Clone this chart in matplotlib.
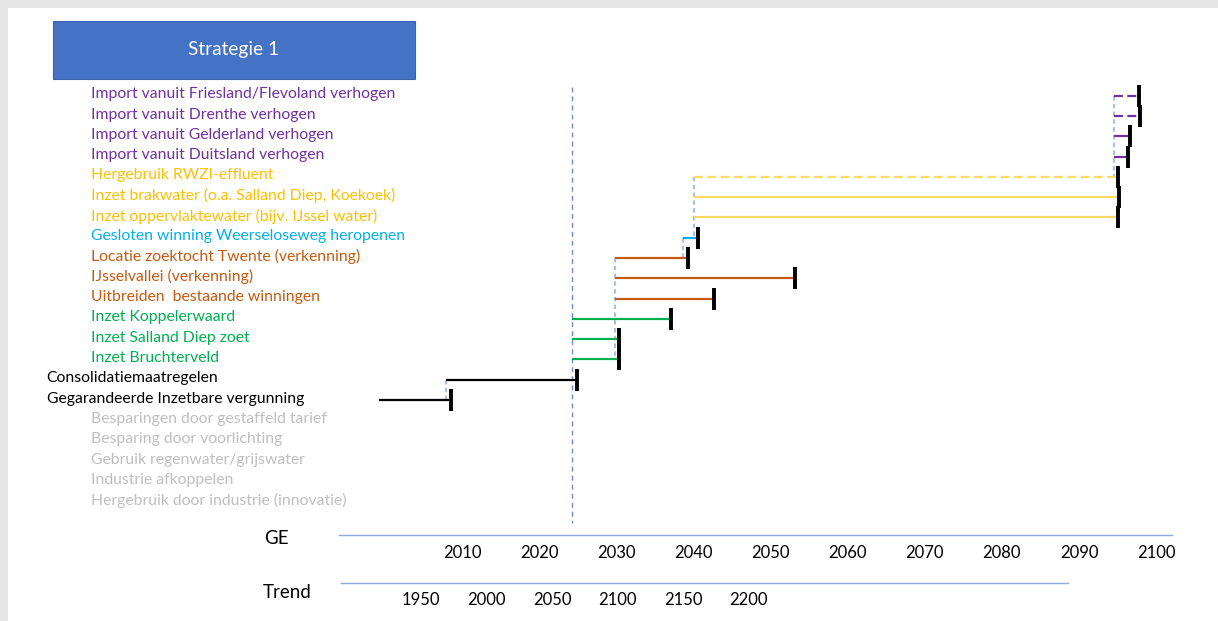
import matplotlib
matplotlib.use("Agg")
import matplotlib.pyplot as plt
from matplotlib.patches import Rectangle
from matplotlib import transforms

plt.rcParams['font.family'] = ['Lato', 'DejaVu Sans']

# ---- data -------------------------------------------------------------
title = "Strategie 1"

measures = [
    "Import vanuit Friesland/Flevoland verhogen",
    "Import vanuit Drenthe verhogen",
    "Import vanuit Gelderland verhogen",
    "Import vanuit Duitsland verhogen",
    "Hergebruik RWZI-effluent",
    "Inzet brakwater (o.a. Salland Diep, Koekoek)",
    "Inzet oppervlaktewater (bijv. IJssel water)",
    "Gesloten winning Weerseloseweg heropenen",
    "Locatie zoektocht Twente (verkenning)",
    "IJsselvallei (verkenning)",
    "Uitbreiden  bestaande winningen",
    "Inzet Koppelerwaard",
    "Inzet Salland Diep zoet",
    "Inzet Bruchterveld",
    "Consolidatiemaatregelen",
    "Gegarandeerde Inzetbare vergunning",
    "Besparingen door gestaffeld tarief",
    "Besparing door voorlichting",
    "Gebruik regenwater/grijswater",
    "Industrie afkoppelen",
    "Hergebruik door industrie (innovatie)",
]

groups = (["import"] * 4 + ["reuse"] * 3 + ["reopen"] + ["extend"] * 3
          + ["new"] * 3 + ["base"] * 2 + ["saving"] * 5)

# start / end year of every scheduled measure (rows 0..15)
start_years = [2094.5, 2094.5, 2094.5, 2094.5, 2040.0, 2040.0, 2040.0, 2038.6,
               2029.8, 2029.8, 2029.8, 2024.2, 2024.2, 2024.2, 2007.8, 1999.1]
end_years = [2097.8, 2097.9, 2096.6, 2096.4, 2095.1, 2095.2, 2095.1, 2040.5,
             2039.2, 2053.1, 2042.6, 2037.0, 2030.3, 2030.3, 2024.9, 2008.5]
tentative = [True, True, False, False, True, False, False, False,
             False, False, False, False, False, False, False, False]

# dependency links: (measure, predecessor)
links = [(0, 4), (4, 7), (7, 8), (8, 13), (14, 15)]

now_year = 2024.2
ge_years = [2010, 2020, 2030, 2040, 2050, 2060, 2070, 2080, 2090, 2100]
trend_years = [1950, 2000, 2050, 2100, 2150, 2200]

# ---- styling ----------------------------------------------------------
text_colors = {"import": "#7030A0", "reuse": "#FFC000", "reopen": "#00B0F0",
               "extend": "#C55A11", "new": "#00B050", "base": "#000000",
               "saving": "#BFBFBF"}
line_colors = {"import": "#7030A0", "reuse": "#FFD966", "reopen": "#00B0F0",
               "extend": "#C55A11", "new": "#00B050", "base": "#000000"}
indent = {"base": 46.7}

W, H = 1218, 621
fig = plt.figure(figsize=(W / 100, H / 100), dpi=100)
fig.patch.set_facecolor("#E7E6E6")


def fx(px):
    return px / W


def fy(py):
    return 1 - py / H


fig.patches.append(Rectangle((fx(8), 0), 1 - fx(8), fy(8), transform=fig.transFigure,
                             facecolor="white", edgecolor="none", zorder=-2))

# header box
fig.patches.append(Rectangle((fx(52.7), fy(78.7)), (415 - 52.7) / W, 58 / H,
                             transform=fig.transFigure, facecolor="#4472C4",
                             edgecolor="#3A64B0", lw=0.8, zorder=-1))
fig.text(fx(234), fy(49.5), title, color="white", fontsize=13.8,
         ha="center", va="center")

# ---- main time axis (GE) ---------------------------------------------
ax = fig.add_axes([fx(339), fy(535), (1172 - 339) / W, (535 - 60) / H])
ax.set_facecolor("none")
px_per_year = 7.703
ax.set_xlim(2010 - (462.7 - 339) / px_per_year, 2010 + (1172 - 462.7) / px_per_year)
ax.set_ylim(21.77, -1.64)
for s in ("top", "left", "right"):
    ax.spines[s].set_visible(False)
ax.spines["bottom"].set_color("#8EA9DB")
ax.spines["bottom"].set_linewidth(1.0)
ax.set_yticks([])
ax.set_xticks(ge_years)
ax.tick_params(axis="x", length=0, pad=7.5, labelsize=12, colors="#000000")

bar_off = 0.12

# current-year reference line
ax.vlines(now_year, -0.3, 21.2, colors="#6F8AC4", lw=1.0,
          linestyles=(0, (3.5, 3)), zorder=1)

# dependency connectors
for a, b in links:
    ax.vlines(start_years[a], a + bar_off, b + bar_off, colors="#A9C0E8",
              lw=1.6, linestyles=(0, (2, 1.5)), zorder=2)

# measure bars and end markers
for i, (s, e) in enumerate(zip(start_years, end_years)):
    y = i + bar_off
    ls = (0, (4, 2)) if tentative[i] else "-"
    ax.plot([s, e], [y, y], color=line_colors[groups[i]], lw=1.6,
            linestyle=ls, solid_capstyle="butt", zorder=3)
    ax.plot([e], [y], marker="|", ms=15.5, mew=2.8, color="black",
            linestyle="none", zorder=4)

# measure names
lab_tf = transforms.blended_transform_factory(fig.transFigure, ax.transData)
for i, (name, g) in enumerate(zip(measures, groups)):
    ax.text(fx(indent.get(g, 90.7)), i + 0.05, name, transform=lab_tf,
            color=text_colors[g], fontsize=11.3, ha="left", va="center",
            clip_on=False)

fig.text(fx(276.7), fy(538), "GE", fontsize=13.5, ha="center", va="center")

# ---- trend axis -------------------------------------------------------
ax2 = fig.add_axes([fx(341), fy(583.3), (1068 - 341) / W, 0.0001])
ax2.set_facecolor("none")
trend_px = 1.31
ax2.set_xlim(1950 - (421 - 341) / trend_px, 1950 + (1068 - 421) / trend_px)
for s in ("top", "left", "right"):
    ax2.spines[s].set_visible(False)
ax2.spines["bottom"].set_color("#8EA9DB")
ax2.spines["bottom"].set_linewidth(1.0)
ax2.set_yticks([])
ax2.set_xticks(trend_years)
ax2.tick_params(axis="x", length=0, pad=6.5, labelsize=12)

fig.text(fx(286.7), fy(592), "Trend", fontsize=13.5, ha="center", va="center")

fig.savefig("out.png", dpi=100, facecolor=fig.get_facecolor())
